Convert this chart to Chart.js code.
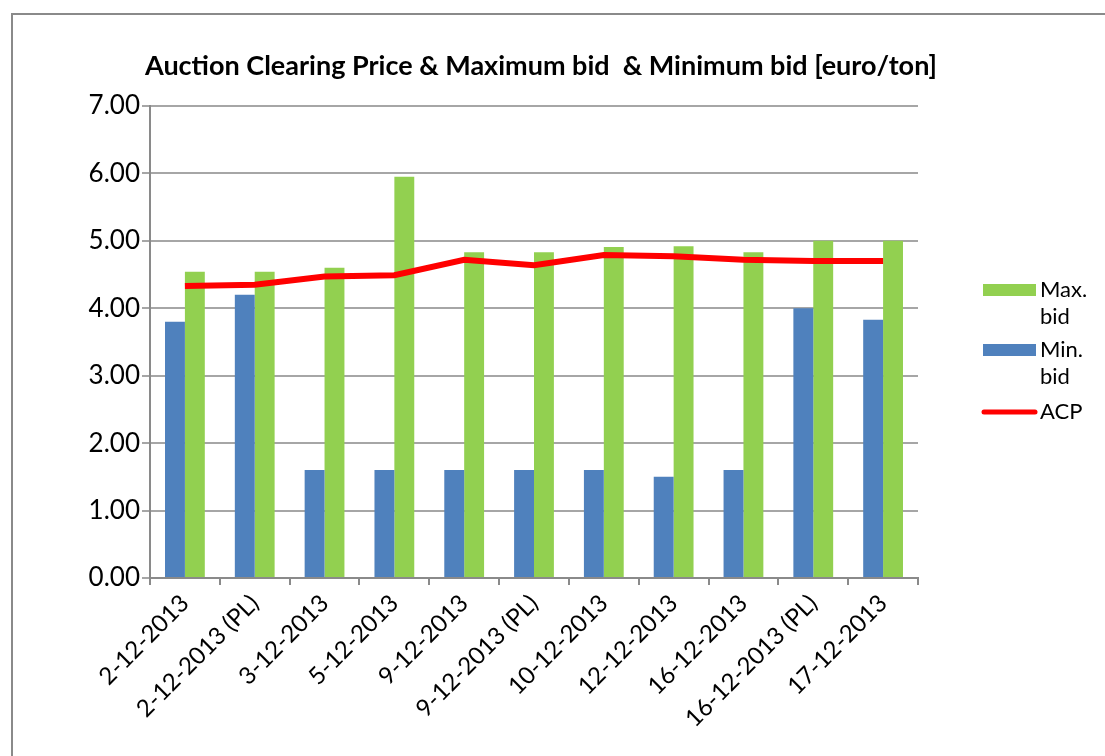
<!DOCTYPE html>
<html>
<head>
<meta charset="utf-8">
<script src="https://cdn.jsdelivr.net/npm/chart.js@4.4.1/dist/chart.umd.min.js"></script>
<style>
  html, body { margin: 0; padding: 0; background: #ffffff; overflow: hidden; }
  #frame {
    position: absolute; left: 11px; top: 13px; width: 1200px; height: 900px;
    border-left: 2px solid #8a8a8a; border-top: 2px solid #8a8a8a;
  }
  #chart { position: absolute; left: 0; top: 0; }
</style>
</head>
<body>
<div id="frame"></div>
<canvas id="chart" width="1105" height="756"></canvas>
<script>
const categories = [
  "2-12-2013", "2-12-2013 (PL)", "3-12-2013", "5-12-2013", "9-12-2013",
  "9-12-2013 (PL)", "10-12-2013", "12-12-2013", "16-12-2013",
  "16-12-2013 (PL)", "17-12-2013"
];
const minBid = [3.80, 4.20, 1.60, 1.60, 1.60, 1.60, 1.60, 1.50, 1.60, 4.00, 3.83];
const maxBid = [4.54, 4.54, 4.60, 5.95, 4.83, 4.83, 4.91, 4.92, 4.83, 5.00, 5.00];
const acp = [4.33, 4.35, 4.47, 4.49, 4.72, 4.64, 4.79, 4.77, 4.72, 4.70, 4.70];
const yTicks = [0, 1, 2, 3, 4, 5, 6, 7];

const titleText = "Auction Clearing Price & Maximum bid  & Minimum bid [euro/ton]";
const FONT = "Lato, 'Open Sans', sans-serif";

// legend + title drawn by hand (Excel style: wrapped labels on the right)
const excelDecor = {
  id: "excelDecor",
  afterDraw(chart) {
    const ctx = chart.ctx;
    ctx.save();
    ctx.fillStyle = "#000000";
    ctx.font = "bold 27px " + FONT;
    ctx.textAlign = "center";
    ctx.textBaseline = "middle";
    ctx.fillText(titleText, 541, 66);

    const items = [
      { ds: 1, y: 290, lines: ["Max.", "bid"] },
      { ds: 0, y: 350, lines: ["Min.", "bid"] },
      { ds: 2, y: 412, lines: ["ACP"] },
    ];
    ctx.font = "22px " + FONT;
    ctx.textAlign = "left";
    items.forEach((it) => {
      const d = chart.data.datasets[it.ds];
      if (d.type === "line") {
        ctx.strokeStyle = d.borderColor;
        ctx.lineWidth = 5;
        ctx.lineCap = "round";
        ctx.beginPath();
        ctx.moveTo(984, it.y);
        ctx.lineTo(1035, it.y);
        ctx.stroke();
      } else {
        ctx.fillStyle = d.backgroundColor;
        ctx.fillRect(983, it.y - 6, 53, 12);
      }
      ctx.fillStyle = "#000000";
      it.lines.forEach((t, i) => ctx.fillText(t, 1040, it.y + i * 27));
    });
    ctx.restore();
  },
};

new Chart(document.getElementById("chart"), {
  type: "bar",
  data: {
    labels: categories,
    datasets: [
      {
        label: "Min. bid",
        data: minBid,
        backgroundColor: "#4f81bd",
        categoryPercentage: 0.57,
        barPercentage: 1.0,
        order: 2,
      },
      {
        label: "Max. bid",
        data: maxBid,
        backgroundColor: "#92d050",
        categoryPercentage: 0.57,
        barPercentage: 1.0,
        order: 2,
      },
      {
        type: "line",
        label: "ACP",
        data: acp,
        borderColor: "#ff0000",
        borderWidth: 6,
        pointRadius: 0,
        tension: 0,
        fill: false,
        order: 1,
      },
    ],
  },
  options: {
    responsive: false,
    animation: false,
    layout: { padding: { top: 106, right: 187, bottom: 0, left: 0 } },
    plugins: {
      legend: { display: false },
      title: { display: false },
      tooltip: { enabled: false },
    },
    scales: {
      x: {
        grid: { drawOnChartArea: false, drawTicks: true, tickLength: 7, color: "#8a8a8a", lineWidth: 2 },
        border: { color: "#8a8a8a", width: 2 },
        ticks: {
          color: "#000000",
          font: { family: FONT, size: 24 },
          minRotation: 45,
          maxRotation: 45,
          padding: 4,
          autoSkip: false,
        },
        afterFit(scale) { scale.height = 178; },
      },
      y: {
        min: 0,
        max: 7,
        afterBuildTicks(scale) { scale.ticks = yTicks.map((v) => ({ value: v })); },
        grid: { color: "#a6a6a6", lineWidth: 2, tickLength: 8 },
        border: { color: "#8a8a8a", width: 2 },
        ticks: {
          color: "#000000",
          font: { family: FONT, size: 26 },
          padding: 2,
          callback: (v) => Number(v).toFixed(2),
        },
        afterFit(scale) { scale.width = 150; },
      },
    },
  },
  plugins: [excelDecor],
});
</script>
</body>
</html>
